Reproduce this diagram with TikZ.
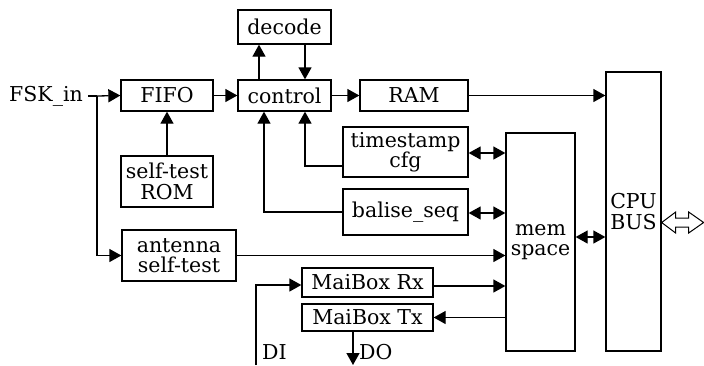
\documentclass[tikz,border=0pt]{standalone}
\usepackage{fontspec}
\setmainfont{DejaVu Serif}
\usetikzlibrary{arrows.meta}
\tikzset{
  blk/.style={draw, line width=1.3pt, rectangle, inner sep=0pt, align=center,
              font=\fontsize{20.5}{20.5}\selectfont},
  lbl/.style={inner sep=0pt, font=\fontsize{20.5}{20.5}\selectfont},
  wire/.style={line width=1.3pt},
  arr/.style={wire, -{Triangle[length=12pt,width=13pt]}},
  darr/.style={wire, {Triangle[length=12pt,width=13pt]}-{Triangle[length=12pt,width=13pt]}},
}
\begin{document}
\begin{tikzpicture}[x=1pt, y=-1pt]
\useasboundingbox (0,0) rectangle (704,365);

% blocks
\node[blk, minimum width=93pt, minimum height=34pt] (decode) at (284.5,27) {decode};
\node[blk, minimum width=92pt, minimum height=31pt] (fifo) at (167,95.5) {FIFO};
\node[blk, minimum width=93pt, minimum height=31pt] (control) at (284.5,95.5) {control};
\node[blk, minimum width=108pt, minimum height=31pt] (ram) at (414,95.5) {RAM};
\node[blk, minimum width=92pt, minimum height=51pt] (rom) at (167,181.5) {self-test\\ROM};
\node[blk, minimum width=125pt, minimum height=50pt] (ts) at (405.5,152) {timestamp\\cfg};
\node[blk, minimum width=125pt, minimum height=46pt] (bal) at (405.5,212) {balise\_seq};
\node[blk, minimum width=114pt, minimum height=51pt] (ant) at (179,255.5) {antenna\\self-test};
\node[blk, minimum width=131pt, minimum height=29pt] (rx) at (367.5,282.5) {MaiBox Rx};
\node[blk, minimum width=131pt, minimum height=27pt] (tx) at (367.5,317.5) {MaiBox Tx};
\node[blk, minimum width=69pt, minimum height=218pt] (mem) at (540.5,242) {mem\\space};
\node[blk, minimum width=55pt, minimum height=279pt] (cpu) at (633.5,211.5) {CPU\\BUS};

% external labels
\node[lbl, anchor=east] (fsk) at (83,96) {FSK\_in};
\node[lbl, anchor=base west] (di) at (262,359) {DI};
\node[lbl, anchor=base west] (do) at (359,359) {DO};
\coordinate (split) at (97,96);
\coordinate (diend) at (256,365);
\coordinate (doend) at (353,365);

% input path
\draw[wire] (fsk.east) ++(5pt,0) -- (split);
\draw[arr] (split) -- (fifo.west);
\draw[arr] (split) |- (ant.west);
\draw[arr] (fifo) -- (control);
\draw[arr] (control) -- (ram);
\draw[arr] (rom) -- (fifo);

% control / decode
\draw[arr] ([xshift=-25.5pt]control.north) -- ([xshift=-25.5pt]decode.south);
\draw[arr] ([xshift=20.5pt]decode.south) -- ([xshift=20.5pt]control.north);
\draw[arr] ([yshift=-14pt]ts.west) -| ([xshift=20.5pt]control.south);
\draw[arr] (bal.west) -| ([xshift=-20.5pt]control.south);

% memory space links
\draw[arr] (ram.east) -- (ram.east -| cpu.west);
\draw[darr] ([yshift=-1pt]ts.east) -- ([yshift=-1pt]ts.east -| mem.west);
\draw[darr] ([yshift=-1pt]bal.east) -- ([yshift=-1pt]bal.east -| mem.west);
\draw[arr] (ant.east) -- (ant.east -| mem.west);
\draw[arr] ([yshift=-3.5pt]rx.east) -- ([yshift=-3.5pt]rx.east -| mem.west);
\draw[arr] (tx.east -| mem.west) -- (tx.east);
\draw[darr] (mem.east |- 0,237) -- (cpu.west |- 0,237);

% mailbox I/O
\draw[arr] (diend) |- ([yshift=-2.5pt]rx.west);
\draw[arr] ([xshift=-14.5pt]tx.south) -- (doend);

% hollow bus arrow
\draw[line width=1pt, fill=white]
  (cpu.east |- 0,222.5) -- ++(14,-10.5) -- ++(0,6) -- ++(13,0) -- ++(0,-6)
  -- ++(15,10.5) -- ++(-15,10.5) -- ++(0,-6) -- ++(-13,0) -- ++(0,6) -- cycle;
\end{tikzpicture}
\end{document}
